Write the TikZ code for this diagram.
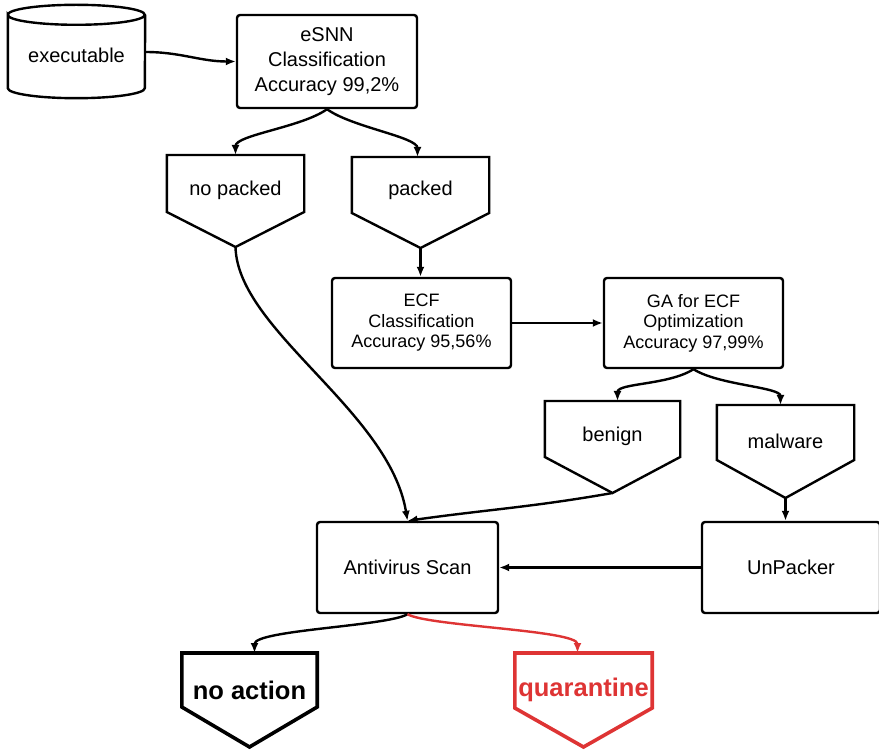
\documentclass[tikz,border=0pt]{standalone}
\usepackage{fontspec}
\setmainfont{Liberation Sans}
\usetikzlibrary{arrows.meta}
\definecolor{qred}{RGB}{222,52,52}
\newcommand\pentshape[4]{%
  \coordinate (#1-tip) at ([yshift=-#3pt]#1.north);
  \draw[pline,#4] (#1.north west) -- (#1.north east) -- ([yshift=-#2pt]#1.north east) -- (#1-tip) -- ([yshift=-#2pt]#1.north west) -- cycle;}
\begin{document}
\begin{tikzpicture}[x=1pt,y=1pt,
  box/.style={draw, line width=2.4pt, rounded corners=3pt, align=center, font=\fontsize{20}{25}\selectfont, inner sep=0pt},
  sbox/.style={box, font=\fontsize{18}{20.5}\selectfont},
  ptxt/.style={inner sep=0pt, font=\fontsize{20}{25}\selectfont, anchor=north},
  btxt/.style={inner sep=0pt, font=\bfseries\fontsize{25.5}{30}\selectfont, anchor=north},
  pline/.style={line width=2.4pt, line join=miter},
  arr/.style={line width=2.4pt, -{Latex[length=10pt,width=8pt]}},
]
\useasboundingbox (0,0) rectangle (879,-751);
% cylinder
\node[inner sep=0pt, minimum width=137pt, minimum height=86pt, font=\fontsize{20}{25}\selectfont] (exe) at (76.5,-55) {executable};
\draw[pline] ([yshift=-3pt]exe.north west) arc[start angle=180, end angle=-180, x radius=68.5pt, y radius=10pt]
  -- ([yshift=10pt]exe.south west) arc[start angle=180, end angle=360, x radius=68.5pt, y radius=10pt]
  -- ([yshift=-3pt]exe.north east);
% boxes
\node[box, minimum width=180pt, minimum height=93pt] (esnn) at (327,-61.5) {eSNN\\Classification\\Accuracy 99,2\%};
\node[sbox, minimum width=179pt, minimum height=90pt] (ecf) at (421.5,-323) {ECF\\Classification\\Accuracy 95,56\%};
\node[sbox, minimum width=179pt, minimum height=90pt] (ga) at (693.5,-323) {GA for ECF\\Optimization\\Accuracy 97,99\%};
\node[box, minimum width=181pt, minimum height=91pt] (av) at (407.5,-567.5) {Antivirus Scan};
\node[box, minimum width=178pt, minimum height=91pt] (un) at (791,-567.5) {UnPacker};
% pentagons
\node[ptxt, minimum width=137pt, minimum height=70pt] (np) at (235.5,-155) {no packed};
\pentshape{np}{57}{92}{}
\node[ptxt, minimum width=137pt, minimum height=66pt] (pk) at (420.5,-157) {packed};
\pentshape{pk}{56}{91}{}
\node[ptxt, minimum width=135pt, minimum height=70pt] (bn) at (612.5,-401) {benign};
\pentshape{bn}{56}{92}{}
\node[ptxt, minimum width=137pt, minimum height=72pt] (mw) at (785.5,-405) {malware};
\pentshape{mw}{55}{93}{}
\node[btxt, minimum width=135pt, minimum height=74pt] (na) at (249.5,-653) {no action};
\pentshape{na}{54}{94}{line width=3.6pt}
\node[btxt, minimum width=137pt, minimum height=74pt, text=qred] (qu) at (583.5,-653) {quarantine};
\pentshape{qu}{55}{94}{line width=3.6pt, draw=qred}
% connectors
\draw[arr] ([yshift=3pt]exe.east) to[out=0,in=180] (esnn.west);
\draw[arr] (esnn.south) .. controls +(-25,-18) and +(0,20) .. (np.north);
\draw[arr] (esnn.south) .. controls +(25,-18) and +(0,20) .. ([xshift=-3pt]pk.north);
\draw[arr] (pk-tip) -- (pk-tip |- ecf.north);
\draw[arr] (ecf.east) -- (ga.west);
\draw[arr] (ga.south) .. controls +(-25,-16) and +(0,18) .. ([xshift=5pt]bn.north);
\draw[arr] (ga.south) .. controls +(25,-16) and +(0,18) .. ([xshift=-5pt]mw.north);
\draw[arr] (np-tip) .. controls +(2,-83) and +(-18,110) .. (av.north);
\draw[arr] (bn-tip) to[out=-170,in=8] (av.north);
\draw[arr] (mw-tip) -- (mw-tip |- un.north);
\draw[arr] (un.west) -- (av.east);
\draw[arr] (av.south) .. controls +(-20,-12) and +(0,23) .. ([xshift=5pt]na.north);
\draw[arr, qred] (av.south) .. controls +(20,-12) and +(0,23) .. ([xshift=-6pt]qu.north);
\end{tikzpicture}
\end{document}
